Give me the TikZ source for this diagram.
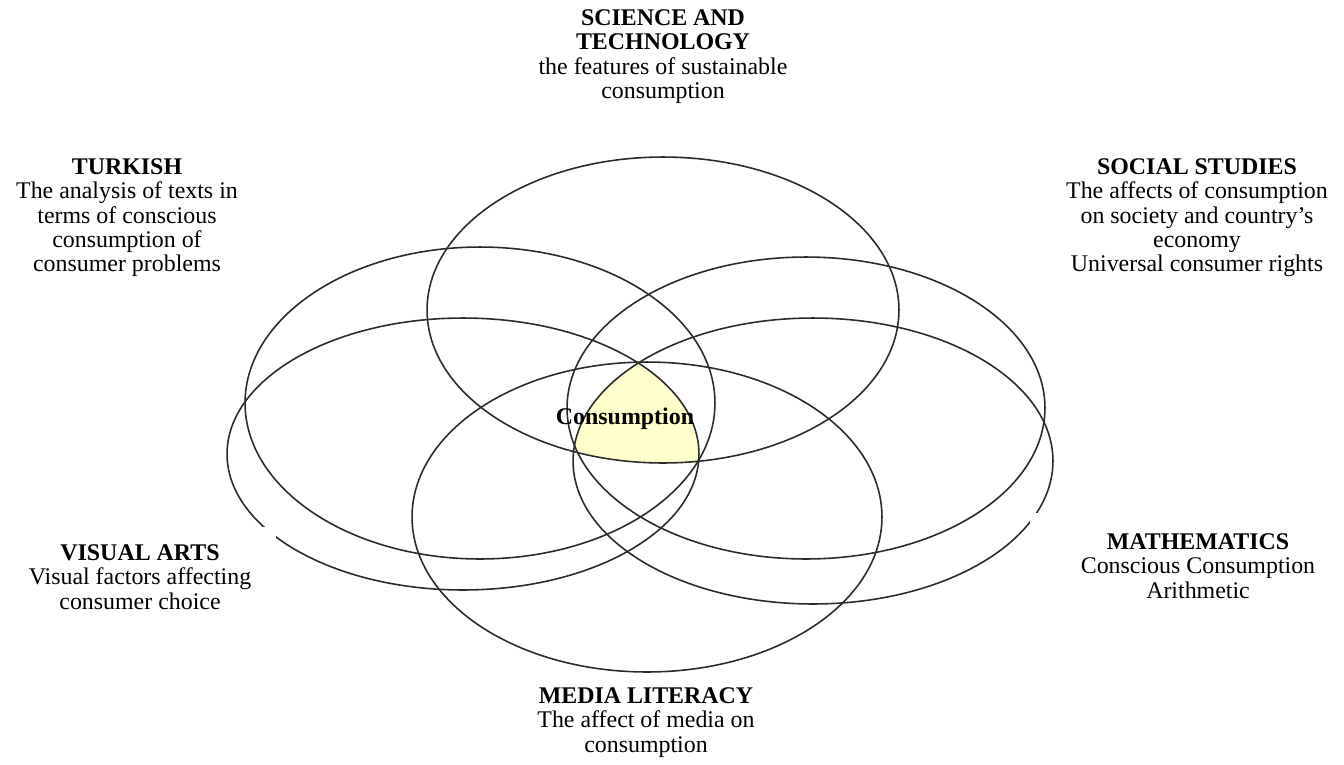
\documentclass[tikz,border=0pt]{standalone}
\usepackage{fontspec}
\setmainfont{Liberation Serif}
\definecolor{CoreYellow}{HTML}{FFFFCC}
\definecolor{RingGray}{HTML}{2B2B2B}

\begin{document}
\begin{tikzpicture}[x=0.02cm,y=-0.02cm,
    ring/.style={draw=RingGray,line width=0.9pt},
    subj/.style={align=center,anchor=north,inner sep=0pt,
                 font=\fontsize{13.6}{13.9}\selectfont},
    core/.style={anchor=base,inner sep=0pt,
                 font=\fontsize{13.6}{13.9}\selectfont\bfseries}]
  \path[use as bounding box,fill=white] (0,0) rectangle (1344,764);
  % shared core of all subjects
  \begin{scope}
    \clip (663,310) ellipse [x radius=4.72cm,y radius=3.06cm];
    \clip (463,454) ellipse [x radius=4.72cm,y radius=2.72cm];
    \fill[CoreYellow] (813,461) ellipse [x radius=4.80cm,y radius=2.86cm];
  \end{scope}
  % subject rings
  \draw[ring] (663,310) ellipse [x radius=4.72cm,y radius=3.06cm];
  \draw[ring] (480,403) ellipse [x radius=4.70cm,y radius=3.12cm];
  \draw[ring] (806,408) ellipse [x radius=4.78cm,y radius=3.02cm];
  \draw[ring] (463,454) ellipse [x radius=4.72cm,y radius=2.72cm];
  \draw[ring] (813,461) ellipse [x radius=4.80cm,y radius=2.86cm];
  \draw[ring] (647,517) ellipse [x radius=4.70cm,y radius=3.10cm];
  % subject labels
  \node[subj] (sci) at (663,9)
    {\textbf{SCIENCE AND}\\\textbf{TECHNOLOGY}\\the features of sustainable\\consumption};
  \node[subj] (turk) at (127,158)
    {\textbf{TURKISH}\\The analysis of texts in\\terms of conscious\\consumption of\\consumer problems};
  \node[subj] (soc) at (1197,158)
    {\textbf{SOCIAL STUDIES}\\The affects of consumption\\on society and country’s\\economy\\Universal consumer rights};
  \node[subj,fill=white,inner xsep=0.5cm,inner ysep=0.34cm] (art) at (140,527)
    {\textbf{VISUAL ARTS}\\Visual factors affecting\\consumer choice};
  \node[subj,fill=white,inner xsep=1.02cm,inner ysep=0.4cm] (math) at (1198,513)
    {\textbf{MATHEMATICS}\\Conscious Consumption\\Arithmetic};
  \node[subj] (media) at (646,687)
    {\textbf{MEDIA LITERACY}\\The affect of media on\\consumption};
  \node[core] (cons) at (625,424) {Consumption};
\end{tikzpicture}
\end{document}
